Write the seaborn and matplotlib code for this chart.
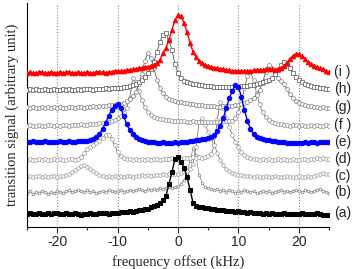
import matplotlib
matplotlib.use("Agg")
import matplotlib.pyplot as plt
import numpy as np
import pandas as pd
import seaborn as sns

# frequency grid (kHz), 0.5 kHz steps from -25 to 25
freq = np.arange(-25, 25.01, 0.5)

labels = ["(a)", "(b)", "(c)", "(d)", "(e)", "(f )", "(g)", "(h)", "(i )"]
offsets = [13, 34, 50, 67, 84, 101, 119, 137, 154]

sig_a = [0, 1, 0, 0, 1, 0, 0, 1, 0, 1,
         1, 0, 0, 1, 0, 0, 1, 0, -1, 0,
         0, 1, 0, 0, 1, 1, 1, 0, 1, 1,
         1, 2, 2, 2, 3, 2, 3, 4, 4, 5,
         5, 7, 8, 9, 11, 14, 18, 30, 42, 55,
         57, 52, 46, 37, 24, 11, 8, 7, 7, 6,
         6, 5, 5, 4, 4, 4, 3, 3, 3, 2,
         3, 2, 2, 1, 2, 1, 1, 1, 0, 1,
         0, 1, 0, 0, 0, 1, 0, 0, 0, 0,
         0, 1, 0, 0, 0, 0, 1, 0, -1, -1,
         -1]
sig_b = [0, 2, -1, 1, 0, 2, 1, -1, 1, 0,
         2, 1, 0, 2, 3, 1, 2, 3, 2, 1,
         3, 1, 2, 0, 1, 2, 1, 3, 2, 1,
         2, 3, 1, 2, 3, 2, 3, 4, 3, 2,
         4, 3, 4, 3, 5, 4, 5, 6, 5, 6,
         7, 9, 13, 20, 32, 45, 38, 18, 10, 6,
         5, 4, 3, 4, 2, 3, 1, 3, 2, 0,
         2, 1, 3, 2, 1, 2, 0, 1, 2, 1,
         2, 0, 1, 2, 3, 1, 2, 1, 2, 3,
         2, 1, 3, 2, 1, 2, 3, 4, 2, 1,
         0]
sig_c = [0, 1, 0, 1, 1, 0, 1, 0, 1, 1,
         0, 1, 1, 2, 3, 5, 7, 9, 11, 12,
         10, 8, 6, 4, 2, 1, 0, 1, 0, 1,
         0, 1, 0, 1, 1, 0, 1, 1, 2, 1,
         2, 1, 2, 2, 2, 3, 2, 3, 3, 3,
         3, 4, 5, 6, 8, 13, 30, 55, 59, 52,
         45, 38, 32, 24, 17, 12, 8, 6, 4, 3,
         2, 2, 1, 1, 1, 0, 1, 0, 0, 1,
         0, 0, 1, 0, 0, 0, 1, 0, 0, 0,
         1, 0, 0, 1, 0, 1, 2, 3, 4, 3,
         3]
sig_d = [0, 1, 0, 0, 1, 0, 1, 0, 0, 1,
         0, 1, 0, 0, 1, 1, 0, 1, 3, 7,
         11, 13, 15, 17, 19, 22, 25, 25, 21, 15,
         8, 4, 2, 1, 1, 0, 1, 0, 1, 0,
         1, 0, 1, 1, 0, 1, 1, 1, 2, 1,
         2, 1, 2, 2, 2, 3, 2, 3, 2, 3,
         4, 6, 15, 40, 58, 52, 42, 33, 25, 18,
         13, 8, 5, 3, 2, 1, 1, 0, 1, 0,
         1, 0, 0, 1, 0, 1, 0, 0, 1, 0,
         0, 1, 1, 0, 1, 1, 2, 1, 2, 1,
         1]
sig_e = [1, 1, 2, 1, 1, 1, 2, 1, 1, 1,
         1, 2, 1, 1, 2, 1, 1, 2, 2, 2,
         2, 3, 4, 6, 9, 14, 20, 27, 33, 37,
         39, 35, 27, 19, 13, 9, 6, 4, 3, 2,
         1, 1, 1, 0, 0, 1, 0, 0, 0, 1,
         0, 1, 1, 1, 2, 2, 3, 3, 4, 4,
         5, 6, 8, 12, 17, 25, 35, 45, 52, 58,
         56, 46, 33, 22, 14, 9, 6, 5, 4, 3,
         3, 2, 2, 1, 1, 1, 0, 0, 0, 0,
         0, 0, 1, 0, 1, 1, 0, 1, 1, 1,
         1]
sig_f = [0, 1, 0, 0, 1, 0, 0, 1, 1, 0,
         1, 0, 1, 1, 0, 1, 1, 1, 2, 1,
         1, 2, 2, 2, 3, 3, 4, 4, 5, 6,
         8, 10, 13, 18, 28, 48, 44, 35, 26, 19,
         14, 11, 9, 8, 7, 7, 6, 6, 5, 5,
         5, 5, 5, 4, 4, 5, 4, 4, 4, 4,
         4, 4, 4, 4, 4, 5, 5, 5, 5, 8,
         14, 24, 38, 50, 54, 46, 33, 22, 14, 9,
         6, 4, 3, 2, 2, 1, 1, 0, 1, 1,
         0, 1, 0, 0, 1, 0, 1, 0, 0, 1,
         0]
sig_g = [1, 0, 1, 0, 0, 1, 0, 1, 0, 1,
         0, 1, 0, 0, 1, 1, 0, 1, 1, 0,
         1, 1, 2, 1, 2, 2, 2, 3, 3, 3,
         3, 4, 5, 7, 9, 12, 16, 24, 34, 47,
         55, 50, 40, 28, 20, 15, 11, 9, 8, 7,
         6, 6, 5, 5, 4, 4, 3, 3, 3, 2,
         2, 2, 2, 1, 1, 2, 2, 2, 2, 3,
         3, 4, 5, 6, 8, 10, 13, 18, 25, 36,
         43, 40, 35, 30, 27, 24, 19, 14, 10, 7,
         5, 4, 3, 2, 2, 1, 1, 0, 1, 0,
         0]
sig_h = [0, 1, 0, 1, 0, 0, 1, 0, 0, 1,
         0, 0, 1, 0, 1, 0, 0, 1, 0, 1,
         1, 1, 0, 1, 1, 1, 2, 1, 2, 2,
         2, 2, 3, 3, 4, 5, 6, 8, 10, 13,
         17, 21, 28, 38, 48, 55, 57, 50, 40, 26,
         17, 12, 9, 8, 7, 6, 6, 5, 5, 4,
         4, 4, 3, 3, 3, 3, 3, 3, 3, 3,
         3, 4, 4, 4, 5, 5, 6, 7, 8, 9,
         10, 12, 16, 20, 25, 28, 26, 22, 17, 13,
         10, 8, 6, 5, 4, 3, 3, 2, 2, 1,
         1]
sig_i = [0, 1, 0, 0, 1, 1, 0, 0, 1, 0,
         0, 1, 0, 1, 1, 0, 0, 1, 0, 0,
         1, 0, 0, 1, 1, 1, 0, 1, 1, 2,
         2, 2, 2, 3, 3, 4, 4, 5, 5, 6,
         6, 7, 8, 10, 13, 20, 25, 33, 43, 53,
         58, 57, 50, 41, 30, 21, 16, 12, 10, 8,
         7, 6, 5, 5, 4, 4, 3, 3, 2, 2,
         2, 2, 2, 2, 2, 3, 3, 3, 3, 4,
         4, 4, 3, 4, 5, 7, 10, 14, 17, 19,
         19, 17, 14, 11, 9, 7, 6, 5, 4, 2,
         1]

signals = [sig_a, sig_b, sig_c, sig_d, sig_e, sig_f, sig_g, sig_h, sig_i]

rows = []
for lab, off, sig in zip(labels, offsets, signals):
    for f, s in zip(freq, sig):
        rows.append({"freq": f, "signal": s + off, "curve": lab})
df = pd.DataFrame(rows)

sns.set_style("white")
plt.rcParams["font.family"] = ["Liberation Sans", "DejaVu Sans"]
plt.rcParams["axes.unicode_minus"] = False

# marker style per curve
styles = {
    "(a)": dict(color="black", marker="s", markersize=2.6, markerfacecolor="black",
                markeredgecolor="black", linewidth=1.0, zorder=5),
    "(b)": dict(color="#808080", marker="o", markersize=2.0, markerfacecolor="white",
                markeredgecolor="#808080", markeredgewidth=0.5, linewidth=0.5, zorder=2),
    "(c)": dict(color="#666666", marker="o", markersize=2.6, markerfacecolor="white",
                markeredgecolor="#999999", markeredgewidth=0.5, linewidth=0.5, zorder=2),
    "(d)": dict(color="#555555", marker="o", markersize=2.8, markerfacecolor="white",
                markeredgecolor="#999999", markeredgewidth=0.5, linewidth=0.5, zorder=2),
    "(e)": dict(color="#0000ff", marker="o", markersize=3.2, markerfacecolor="#0000ff",
                markeredgecolor="#0000ff", linewidth=1.0, zorder=6),
    "(f )": dict(color="#555555", marker="o", markersize=2.8, markerfacecolor="white",
                 markeredgecolor="#888888", markeredgewidth=0.5, linewidth=0.5, zorder=3),
    "(g)": dict(color="#444444", marker="o", markersize=2.8, markerfacecolor="white",
                markeredgecolor="#777777", markeredgewidth=0.5, linewidth=0.5, zorder=3),
    "(h)": dict(color="#333333", marker="s", markersize=2.6, markerfacecolor="white",
                markeredgecolor="#555555", markeredgewidth=0.5, linewidth=0.5, zorder=3),
    "(i )": dict(color="#ff0000", marker="^", markersize=3.2, markerfacecolor="#ff0000",
                 markeredgecolor="#ff0000", linewidth=1.0, zorder=7),
}

fig = plt.figure(figsize=(3.55, 2.69), dpi=100)
ax = fig.add_axes([27 / 355, 42 / 269, 302 / 355, 224 / 269])

for lab, off in zip(labels, offsets):
    sub = df[df["curve"] == lab]
    sns.lineplot(data=sub, x="freq", y="signal", ax=ax, estimator=None, sort=False,
                 legend=False, **styles[lab])
    ax.text(25.9, off + 1, lab, va="center", ha="left", fontsize=10, clip_on=False)

ax.set_xlim(-25, 25)
ax.set_ylim(0, 224)
ax.set_xticks([-20, -10, 0, 10, 20])
ax.set_xticks([-25, -15, -5, 5, 15, 25], minor=True)
ax.set_yticks([])
ax.tick_params(axis="x", which="major", direction="out", length=4, width=0.8,
               labelsize=10, pad=2, bottom=True)
ax.tick_params(axis="x", which="minor", direction="out", length=2, width=0.8, bottom=True)
ax.xaxis.grid(True, which="major", linestyle=":", color="#888888", linewidth=0.8)
ax.set_axisbelow(True)
sns.despine(ax=ax, top=True, right=True)
for sp in ["left", "bottom"]:
    ax.spines[sp].set_color("black")
    ax.spines[sp].set_linewidth(0.8)

ax.set_xlabel("frequency offset (kHz)", fontsize=10.5, family="Liberation Serif", labelpad=4)
ax.set_ylabel("transition signal (arbitrary unit)", fontsize=10.5, family="Liberation Serif",
              labelpad=6)

fig.savefig("out.png", dpi=100)
